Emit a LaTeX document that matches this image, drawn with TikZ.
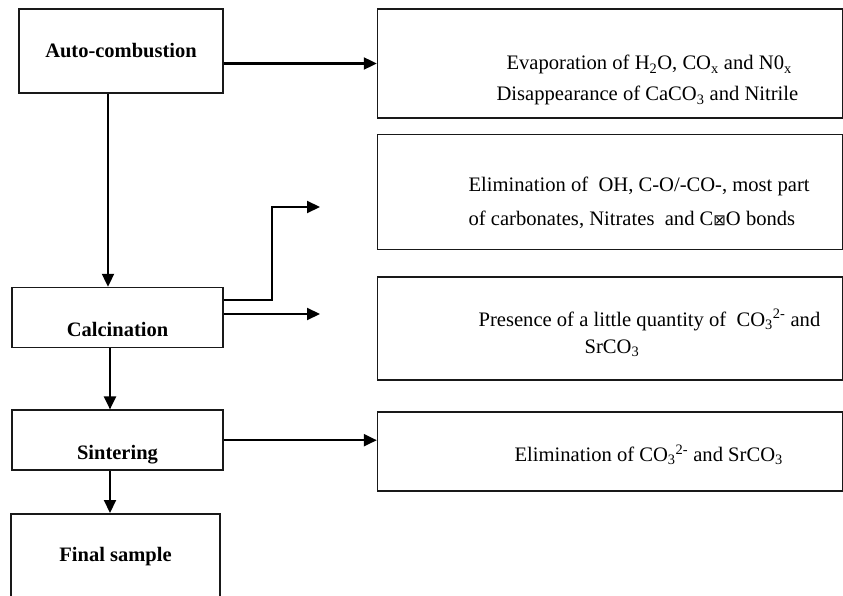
\documentclass[tikz,border=0pt]{standalone}
\usepackage{fontspec}
\setmainfont{Liberation Serif}
\newfontfamily\boxsym{DejaVu Sans}
\usetikzlibrary{arrows.meta,positioning}
\tikzstyle{arrow} = [line width=2.1pt,-{Triangle[length=13pt,width=12pt]}]

\begin{document}
\begin{tikzpicture}[every node/.style={shape=rectangle,draw=black!90,line width=1.6pt,inner sep=0pt},
    stage/.style={minimum width=211pt,text height=49pt,text depth=11pt,font=\bfseries\fontsize{20.5}{24}\selectfont},
    note/.style={text width=465pt,align=flush left,font=\fontsize{20.6}{28}\selectfont}]
    \useasboundingbox (0,0) rectangle (843pt,-596pt);
    % create the nodes
    \node (auto)[stage, minimum width=204pt, text depth=35pt] at (121pt,-51pt) {Auto-combustion};
    \node (calc)[stage, below left=193pt and 0pt of auto.south east] {Calcination};
    \node (sinter)[stage, below=61pt of calc] {Sintering};
    \node (final)[stage, minimum width=209pt, text height=48pt, text depth=52pt, below left=42pt and 3pt of sinter.south east] {Final sample};
    \node (evap)[note, text height=61pt, text depth=48pt, below right=0pt and 153pt of auto.north east]{\hspace*{129pt}Evaporation of H\textsubscript{2}O, CO\textsubscript{x} and N0\textsubscript{x}\\[3pt]\hspace*{119pt}Disappearance of CaCO\textsubscript{3} and Nitrile};
    \node (elim)[note, text height=57pt, text depth=58pt, below=15pt of evap]{\hspace*{91pt}Elimination of\ \ OH, C-O/-CO-, most part\\[6pt]\hspace*{91pt}of carbonates, Nitrates\ \ and C{\boxsym\fontsize{15}{15}\selectfont ⊠}O bonds};
    \node (pres)[note, text height=49pt, text depth=54pt, below=26pt of elim]{\hspace*{101pt}Presence of a little quantity of\ \ CO\textsubscript{3}\textsuperscript{2-} and\\[-1pt]\hspace*{207pt}SrCO\textsubscript{3}};
    \node (gone)[note, text height=50pt, text depth=29pt, below=30pt of pres]{\hspace*{137pt}Elimination of CO\textsubscript{3}\textsuperscript{2-} and SrCO\textsubscript{3}};
    \coordinate (tip1) at (320pt,-207pt);
    \coordinate (tip2) at (320pt,-314pt);
    % connect the nodes
    \draw[arrow] ([xshift=-13pt]auto.south) -- ([xshift=-13pt]auto.south |- calc.north);
    \draw[arrow] ([xshift=-7.5pt]calc.south) -- ([xshift=-7.5pt]calc.south |- sinter.north);
    \draw[arrow] ([xshift=-7.5pt]sinter.south) -- ([xshift=-7.5pt]sinter.south |- final.north);
    \draw[arrow] (auto.east |- evap.west) -- (evap.west);
    \draw[arrow] ([yshift=18pt]calc.east) -| ([xshift=-48pt]tip1) -- (tip1);
    \draw[arrow] (tip2 -| calc.east) -- (tip2);
    \draw[arrow] (sinter.east) -- (sinter.east -| gone.west);
\end{tikzpicture}
\end{document}
